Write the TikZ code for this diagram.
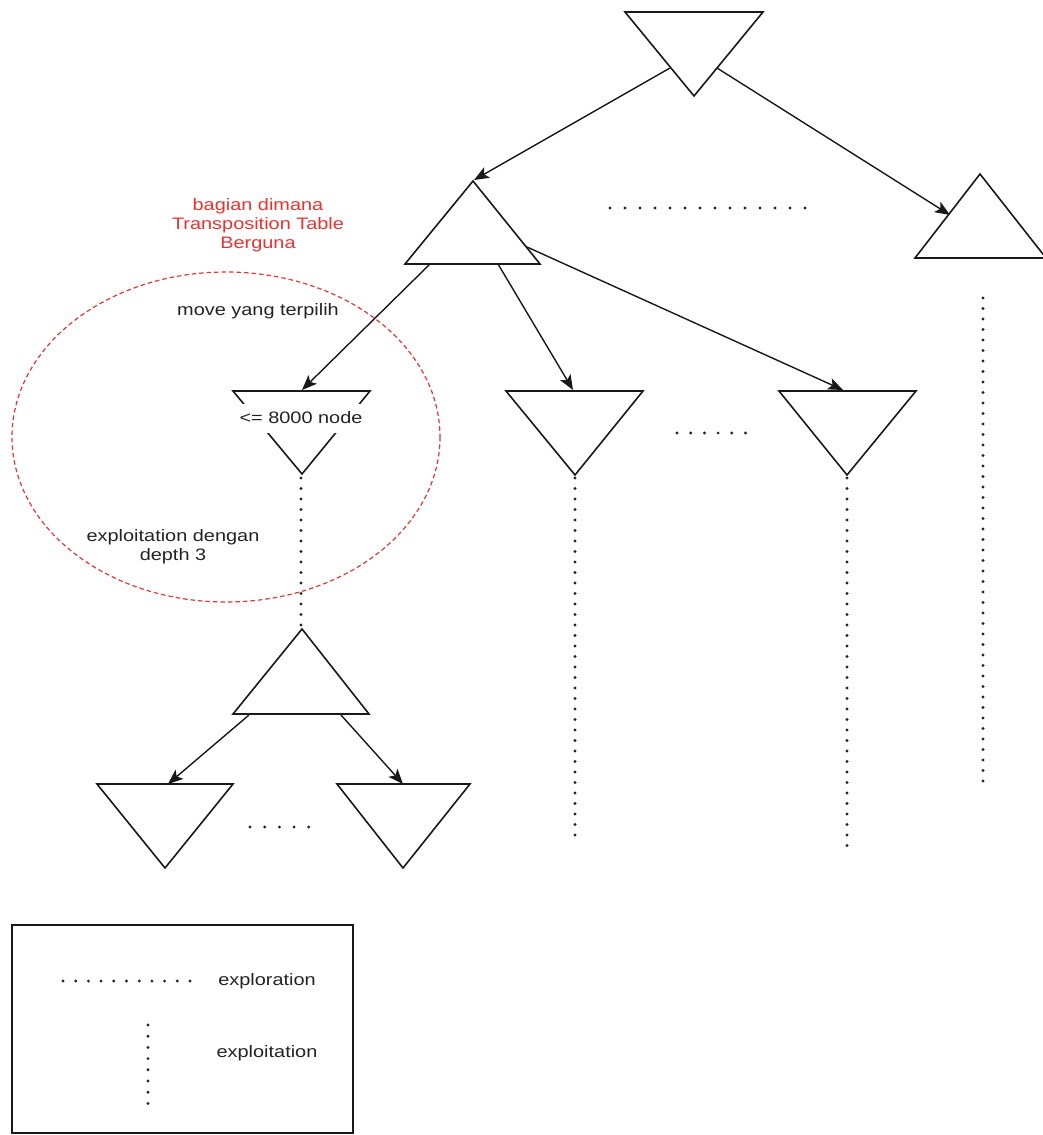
\documentclass[tikz,border=0pt]{standalone}
\usepackage{fontspec}
\setmainfont[FakeStretch=1.2]{Liberation Sans}
\usetikzlibrary{arrows.meta}
\definecolor{redtxt}{RGB}{235,50,50}
\definecolor{reddash}{RGB}{225,55,55}
\definecolor{txt}{RGB}{35,35,35}
\begin{document}
\begin{tikzpicture}[x=1pt,y=-1pt,
  tri/.style={draw=black!90,line width=1.6pt,line join=miter},
  conn/.style={draw=black!90,line width=1.4pt,-{Stealth[length=15pt,width=12pt,inset=3.5pt]}},
  dotline/.style={draw=black!85,line width=3.2pt,line cap=round,dash pattern=on 0pt off 10.5pt},
  lbl/.style={font=\fontsize{16.6}{19}\selectfont,text=txt,align=center,inner sep=0pt},
  redlbl/.style={font=\fontsize{16.6}{19}\selectfont,text=redtxt,align=center,inner sep=0pt}]
\useasboundingbox (0,0) rectangle (1043,1135);
\fill[white] (0,0) rectangle (1043,1135);

% triangles
\draw[tri] (625,12) -- (763,12) -- (694,96) -- cycle;      % T0
\draw[tri] (473,181) -- (540,264) -- (405,264) -- cycle;   % T1
\draw[tri] (980,174) -- (1046,258) -- (915,258) -- cycle;  % T2
\draw[tri] (233,391) -- (370,391) -- (302,474) -- cycle;   % L
\draw[tri] (506,391) -- (643,391) -- (575,475) -- cycle;   % M
\draw[tri] (779,391) -- (916,391) -- (847,475) -- cycle;   % R
\draw[tri] (302,629) -- (369,714) -- (233,714) -- cycle;   % B
\draw[tri] (97,784) -- (233,784) -- (165,868) -- cycle;    % BL
\draw[tri] (337,784) -- (470,784) -- (403,868) -- cycle;   % BR

% connector end points
\coordinate (t0l) at (670,68);
\coordinate (t0r) at (717,68);
\coordinate (t1top) at (474,180);
\coordinate (t2side) at (950,215);
\coordinate (t1a) at (430,264);
\coordinate (t1b) at (498,264);
\coordinate (t1c) at (527,247);
\coordinate (ltop) at (302,390);
\coordinate (mtop) at (573,390);
\coordinate (rtop) at (843,390);
\coordinate (ba) at (249,715);
\coordinate (bb) at (341,715);
\coordinate (bltop) at (168,784);
\coordinate (brtop) at (403,784);

\draw[conn] (t0l) -- (t1top);
\draw[conn] (t0r) -- (t2side);
\draw[conn] (t1a) -- (ltop);
\draw[conn] (t1b) -- (mtop);
\draw[conn] (t1c) -- (rtop);
\draw[conn] (ba) -- (bltop);
\draw[conn] (bb) -- (brtop);

% dotted lines
\coordinate (h1a) at (610,208); \coordinate (h1b) at (806,208);
\coordinate (h2a) at (677,433); \coordinate (h2b) at (746,433);
\coordinate (h3a) at (250,827); \coordinate (h3b) at (309,827);
\coordinate (v1a) at (301,478); \coordinate (v1b) at (301,625);
\coordinate (v2a) at (575,478); \coordinate (v2b) at (575,840);
\coordinate (v3a) at (847,478); \coordinate (v3b) at (847,855);
\coordinate (v4a) at (983,298); \coordinate (v4b) at (983,785);
\draw[dotline,dash pattern=on 0pt off 15pt] (h1a) -- (h1b);
\draw[dotline,dash pattern=on 0pt off 13.7pt] (h2a) -- (h2b);
\draw[dotline,dash pattern=on 0pt off 14.7pt] (h3a) -- (h3b);
\draw[dotline] (v1a) -- (v1b);
\draw[dotline] (v2a) -- (v2b);
\draw[dotline] (v3a) -- (v3b);
\draw[dotline] (v4a) -- (v4b);

% red dashed ellipse
\draw[reddash,line width=1.2pt,dash pattern=on 4.5pt off 3pt] (226,437) ellipse [x radius=214, y radius=165];

% labels
\node[lbl,fill=white,minimum width=140pt,minimum height=29pt] (lab8000) at (301,418) {\raisebox{-2pt}{<= 8000 node}};
\node[redlbl] (redtext) at (258,225) {bagian dimana\\Transposition Table\\Berguna};
\node[lbl] (movetxt) at (258,311) {move yang terpilih};
\node[lbl] (exptxt) at (173,547) {exploitation dengan\\depth 3};

% legend
\draw[line width=1.4pt,draw=black!90] (12,925) rectangle (353,1133);
\coordinate (lg1a) at (63,981); \coordinate (lg1b) at (191,981);
\coordinate (lg2a) at (148,1025); \coordinate (lg2b) at (148,1104);
\draw[dotline,dash pattern=on 0pt off 12.7pt] (lg1a) -- (lg1b);
\draw[dotline,dash pattern=on 0pt off 11.2pt] (lg2a) -- (lg2b);
\node[lbl] (legexplor) at (267,981) {exploration};
\node[lbl] (legexploit) at (267,1053) {exploitation};
\end{tikzpicture}
\end{document}
